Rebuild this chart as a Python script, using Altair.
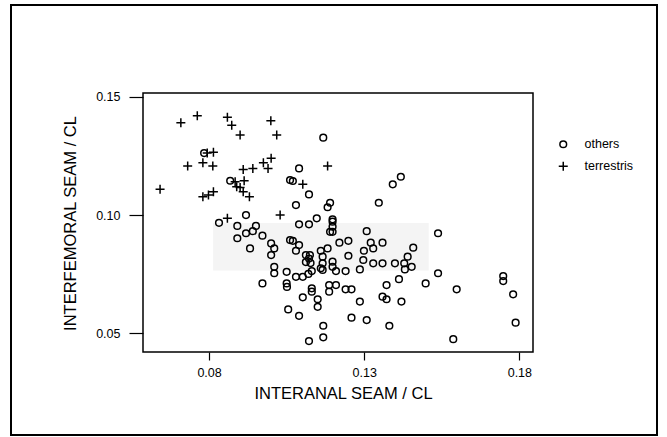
import altair as alt
import pandas as pd

# Measurements of shell seams relative to carapace length (CL)
x_others = [
    0.0784, 0.0868, 0.0919, 0.1061, 0.1168, 0.1090, 0.1070, 0.1122, 0.1080, 0.1190,
    0.1182, 0.1347, 0.1392, 0.1418, 0.1147, 0.1198, 0.0832, 0.0891, 0.0951, 0.0941,
    0.0919, 0.0891, 0.0972, 0.1000, 0.1010, 0.1000, 0.0932, 0.1010, 0.1010, 0.1050,
    0.0972, 0.1050, 0.1051, 0.1055, 0.1061, 0.1090, 0.1122, 0.1198, 0.1198, 0.1198,
    0.1190, 0.1308, 0.1070, 0.1090, 0.1080, 0.1220, 0.1249, 0.1321, 0.1359, 0.1329,
    0.1299, 0.1458, 0.1182, 0.1160, 0.1112, 0.1125, 0.1112, 0.1127, 0.1122, 0.1166,
    0.1249, 0.1198, 0.1166, 0.1160, 0.1166, 0.1297, 0.1329, 0.1359, 0.1399, 0.1440,
    0.1429, 0.1431, 0.1453, 0.1286, 0.1240, 0.1209, 0.1198, 0.1131, 0.1120, 0.1102,
    0.1080, 0.1131, 0.1131, 0.1187, 0.1209, 0.1187, 0.1240, 0.1259, 0.1412, 0.1372,
    0.1498, 0.1102, 0.1150, 0.1150, 0.1286, 0.1359, 0.1372, 0.1420, 0.1090, 0.1259,
    0.1308, 0.1168, 0.1381, 0.1168, 0.1122, 0.1538, 0.1538, 0.1598, 0.1748, 0.1748,
    0.1780, 0.1788, 0.1587,
]
y_others = [
    0.1262, 0.1145, 0.1000, 0.1148, 0.1327, 0.1197, 0.1144, 0.1087, 0.1042, 0.1052,
    0.1033, 0.1052, 0.1130, 0.1162, 0.0986, 0.0982, 0.0967, 0.0954, 0.0954, 0.0932,
    0.0923, 0.0902, 0.0913, 0.0880, 0.0859, 0.0831, 0.0859, 0.0781, 0.0754, 0.0760,
    0.0711, 0.0711, 0.0696, 0.0601, 0.0894, 0.0961, 0.0961, 0.0972, 0.0951, 0.0929,
    0.0929, 0.0932, 0.0891, 0.0873, 0.0849, 0.0883, 0.0891, 0.0883, 0.0883, 0.0859,
    0.0849, 0.0862, 0.0859, 0.0849, 0.0831, 0.0831, 0.0801, 0.0797, 0.0816, 0.0824,
    0.0828, 0.0803, 0.0796, 0.0775, 0.0768, 0.0810, 0.0796, 0.0796, 0.0796, 0.0824,
    0.0796, 0.0770, 0.0781, 0.0770, 0.0763, 0.0763, 0.0781, 0.0763, 0.0751, 0.0739,
    0.0739, 0.0690, 0.0676, 0.0704, 0.0704, 0.0676, 0.0686, 0.0686, 0.0729, 0.0704,
    0.0711, 0.0652, 0.0644, 0.0612, 0.0634, 0.0655, 0.0644, 0.0634, 0.0574, 0.0566,
    0.0556, 0.0532, 0.0532, 0.0483, 0.0467, 0.0923, 0.0754, 0.0686, 0.0742, 0.0721,
    0.0665, 0.0545, 0.0475,
]
x_terrestris = [
    0.0709, 0.0762, 0.0859, 0.0873, 0.0900, 0.0999, 0.1018, 0.0794, 0.0814, 0.0731,
    0.0780, 0.0812, 0.0910, 0.0941, 0.0975, 0.1000, 0.0990, 0.0642, 0.0884, 0.0913,
    0.0889, 0.0900, 0.0910, 0.0930, 0.0780, 0.0798, 0.0814, 0.0859, 0.1029, 0.1182,
    0.1102,
]
y_terrestris = [
    0.1390, 0.1420, 0.1413, 0.1380, 0.1338, 0.1399, 0.1338, 0.1262, 0.1265, 0.1207,
    0.1221, 0.1207, 0.1193, 0.1197, 0.1221, 0.1240, 0.1197, 0.1109, 0.1141, 0.1145,
    0.1120, 0.1117, 0.1098, 0.1077, 0.1077, 0.1085, 0.1098, 0.0986, 0.1000, 0.1207,
    0.1130,
]
groups = ["others", "terrestris"]
x_ticks = [0.08, 0.13, 0.18]
y_ticks = [0.05, 0.10, 0.15]

df = pd.concat([
    pd.DataFrame({"interanal": x_others, "interfemoral": y_others, "group": groups[0]}),
    pd.DataFrame({"interanal": x_terrestris, "interfemoral": y_terrestris, "group": groups[1]}),
], ignore_index=True)

FONT = "Liberation Sans"
x_scale = alt.Scale(domain=[0.0587, 0.1844], nice=False, zero=False)
y_scale = alt.Scale(domain=[0.0421, 0.1516], nice=False, zero=False)

group_legend = alt.Legend(
    title=None, orient="none", legendX=414, legendY=45,
    labelFont=FONT, labelFontSize=12.5, labelColor="black",
    labelOffset=15, rowPadding=7, padding=0,
    symbolStrokeWidth=1.5, symbolStrokeColor="black",
)

points = alt.Chart(df).mark_point(filled=False, color="black", strokeWidth=1.5, opacity=1).encode(
    x=alt.X("interanal:Q", scale=x_scale,
            axis=alt.Axis(values=x_ticks, format=".2f", title="INTERANAL SEAM / CL",
                          domain=False, grid=False, tickSize=8, tickColor="black",
                          tickWidth=1.2, labelPadding=6, labelFontSize=12.5,
                          labelColor="black", labelFont=FONT, titleFont=FONT,
                          titleFontSize=16.5, titleFontWeight="normal", titleColor="black",
                          titleX=200, titleY=41, titleBaseline="middle")),
    y=alt.Y("interfemoral:Q", scale=y_scale,
            axis=alt.Axis(values=y_ticks, format=".2f", title="INTERFEMORAL SEAM / CL",
                          domain=False, grid=False, tickSize=14, tickColor="black",
                          tickWidth=1.2, labelPadding=9, labelFontSize=12.5,
                          labelColor="black", labelFont=FONT, titleFont=FONT,
                          titleFontSize=16.5, titleFontWeight="normal", titleColor="black",
                          titleX=-73, titleY=130, titleAngle=270, titleBaseline="middle",
                          titleAlign="center")),
    shape=alt.Shape("group:N", scale=alt.Scale(domain=groups, range=["circle", "M-1,0H1M0,-1V1"]),
                    legend=group_legend),
    size=alt.Size("group:N", scale=alt.Scale(domain=groups, range=[45, 81]), legend=group_legend),
)

# light shaded band behind the central cluster
band = alt.Chart(alt.Data(values=[{"x0": 0.0813, "x1": 0.1508, "y0": 0.0766, "y1": 0.0966}])).mark_rect(
    color="#f4f4f4"
).encode(
    x=alt.X("x0:Q", scale=x_scale), x2="x1:Q",
    y=alt.Y("y0:Q", scale=y_scale), y2="y1:Q",
)

# border around the whole figure
frame = alt.Chart(alt.Data(values=[{}])).mark_rect(
    fill=None, stroke="black", strokeWidth=2, clip=False
).encode(
    x=alt.value(-132), x2=alt.value(514), y=alt.value(-88), y2=alt.value(342)
)

chart = alt.layer(band, points, frame).properties(
    width=390, height=259,
    background="white",
    autosize=alt.AutoSizeParams(type="none"),
    padding={"left": 143, "top": 93, "right": 134, "bottom": 85},
).configure_view(
    stroke="black", strokeWidth=1.5
)

chart.save("out.html", embed_options={"renderer": "svg", "actions": False})
